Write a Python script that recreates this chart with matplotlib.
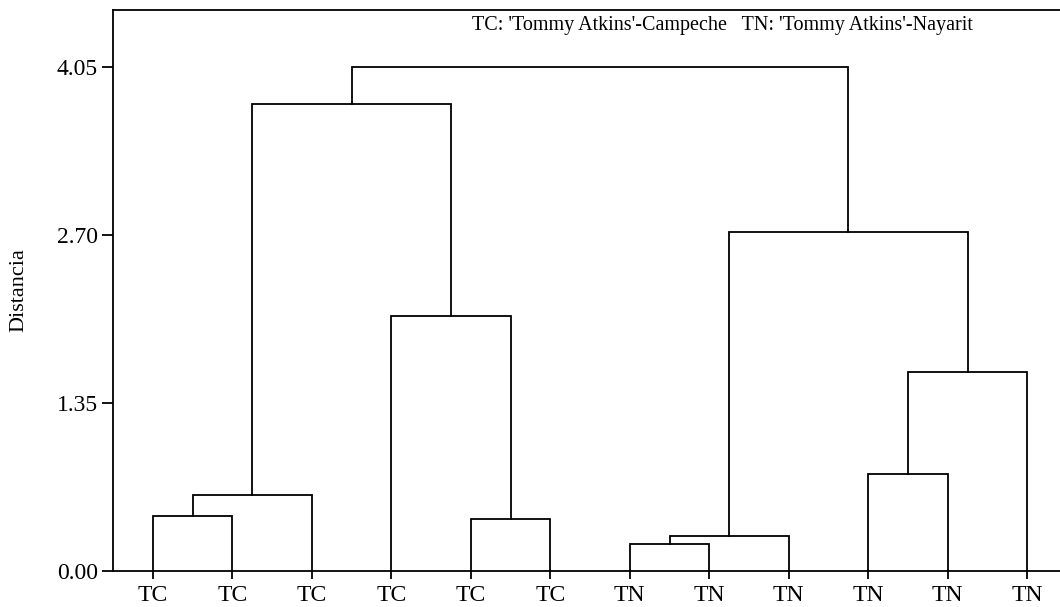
import numpy as np
import matplotlib
matplotlib.use("Agg")
import matplotlib.pyplot as plt

plt.rcParams['font.family'] = ['Liberation Serif', 'DejaVu Serif']

# leaf labels in plotted order
leaf_labels = ["TC", "TC", "TC", "TC", "TC", "TC", "TN", "TN", "TN", "TN", "TN", "TN"]

# linkage: node ids 0..11 are leaves, new clusters numbered from 12
merge_left = [0, 12, 4, 3, 13, 6, 17, 9, 19, 18, 16]
merge_right = [1, 2, 5, 14, 15, 7, 8, 10, 11, 20, 21]
merge_height = [0.44, 0.61, 0.42, 2.05, 3.75, 0.22, 0.28, 0.78, 1.60, 2.72, 4.05]

yticks = [0.00, 1.35, 2.70, 4.05]
legend_text = "TC: 'Tommy Atkins'-Campeche   TN: 'Tommy Atkins'-Nayarit"

fig = plt.figure(figsize=(10.6, 6.07), dpi=100)
ax = fig.add_axes([113/1060, 36/607, 954/1060, 561/607])

n = len(leaf_labels)
xpos = {i: i + 1.0 for i in range(n)}  # x of each node
ypos = {i: 0.0 for i in range(n)}      # height of each node

for k in range(len(merge_height)):
    a, b, h = merge_left[k], merge_right[k], merge_height[k]
    xa, xb = xpos[a], xpos[b]
    ax.plot([xa, xa, xb, xb], [ypos[a], h, h, ypos[b]], color='black', lw=1.3,
            solid_joinstyle='miter', clip_on=False)
    xpos[n + k] = (xa + xb) / 2
    ypos[n + k] = h

ax.set_xlim(0.5, 12.5)
ax.set_ylim(0, 4.505)
ax.set_xticks(np.arange(1, n + 1))
ax.set_xticklabels(leaf_labels, fontsize=17)
ax.set_yticks(yticks)
ax.set_yticklabels(["%.2f" % v for v in yticks], fontsize=17)
ax.tick_params(axis='x', length=6, width=1.3, pad=4)
ax.tick_params(axis='y', length=8, width=1.3, pad=3)
for s in ax.spines.values():
    s.set_linewidth(1.3)

# y label, centred on the axes
fig.text(19/1060, 1 - 290/607, "Distancia", rotation=90, ha='center', va='center', fontsize=16)

fig.text(722/1060, 1 - 30/607, legend_text, ha='center', va='baseline', fontsize=14.5)

fig.savefig("out.png", dpi=100)
